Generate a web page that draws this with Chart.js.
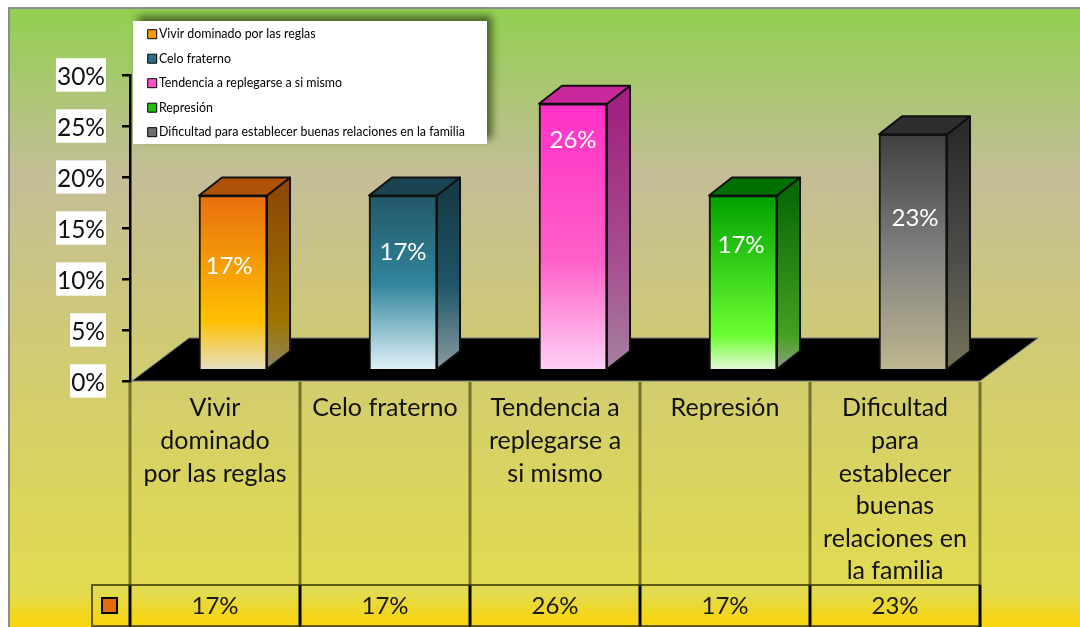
<!DOCTYPE html>
<html>
<head>
<meta charset="utf-8">
<title>Gráfico</title>
<script src="https://cdn.jsdelivr.net/npm/chart.js@4/dist/chart.umd.min.js"></script>
<style>
    html, body { margin: 0; padding: 0; background: #fff; overflow: hidden; }
    canvas { display: block; }
</style>
</head>
<body>
<canvas id="chart" width="1080" height="627"></canvas>
<script>
    const categories = [
        "Vivir dominado por las reglas",
        "Celo fraterno",
        "Tendencia a replegarse a si mismo",
        "Represión",
        "Dificultad para establecer buenas relaciones en la familia"
    ];
    const categoryLines = [
        ["Vivir", "dominado", "por las reglas"],
        ["Celo fraterno"],
        ["Tendencia a", "replegarse a", "si mismo"],
        ["Represión"],
        ["Dificultad", "para", "establecer", "buenas", "relaciones en", "la familia"]
    ];
    const values = [17, 17, 26, 17, 23];
    const valueTexts = ["17%", "17%", "26%", "17%", "23%"];

    // colours per bar: gradient stops for the front and side faces, flat top
    const frontStops = [
        [[0, "#E8700E"], [0.72, "#FFC000"], [1, "#E6DEC0"]],
        [[0, "#225868"], [0.51, "#31859C"], [1, "#E0F1F7"]],
        [[0, "#FF30C8"], [0.59, "#FF60C8"], [1, "#FFD0F4"]],
        [[0, "#00A000"], [0.81, "#6CFF33"], [1, "#E4F8D4"]],
        [[0, "#404040"], [0.5, "#7F7F7F"], [1, "#BDB68F"]]
    ];
    const sideStops = [
        [[0, "#8E4A06"], [0.72, "#9C7400"], [1, "#8F8660"]],
        [[0, "#173C48"], [0.51, "#1E5566"], [1, "#8A9BA0"]],
        [[0, "#A0217F"], [0.59, "#A64F8F"], [1, "#A680A0"]],
        [[0, "#0A6A08"], [0.81, "#45A020"], [1, "#90A080"]],
        [[0, "#2B2B2B"], [0.5, "#4B4B48"], [1, "#757258"]]
    ];
    const topColors = ["#B05208", "#1B4452", "#C8289A", "#007000", "#2E2E2E"];
    const legendColors = ["#F59A08", "#2B7088", "#FF50C8", "#20C010", "#6E6E6E"];

    // the value labels do not sit at a fixed place in the bars
    const labelOffsetX = [-4, 0, 0, -2, 2];
    const labelOffsetY = [71, 57, 37, 50, 84];

    const depthX = 23;
    const depthY = 18;
    const fontName = "Lato, Carlito, sans-serif";

    function verticalGradient(ctx, top, bottom, stops) {
        const gradient = ctx.createLinearGradient(0, top, 0, bottom);
        stops.forEach(function (stop) {
            gradient.addColorStop(stop[0], stop[1]);
        });
        return gradient;
    }

    const scenery = {
        id: "scenery",
        beforeDraw: function (chart) {
            const ctx = chart.ctx;
            const legend = chart.legend;
            legend.left = 139.6;
            legend.top = 15.9;

            ctx.save();
            ctx.fillStyle = "#ffffff";
            ctx.fillRect(0, 0, 1080, 627);
            ctx.fillStyle = verticalGradient(ctx, 8, 627, [
                [0, "#92D050"], [0.27, "#C4BD97"], [0.62, "#D3CE6C"],
                [0.945, "#E2DB50"], [0.99, "#F7D510"], [1, "#F7D510"]
            ]);
            ctx.fillRect(8, 8, 1072, 619);
            ctx.strokeStyle = "#8c8c8c";
            ctx.lineWidth = 2;
            ctx.beginPath();
            ctx.moveTo(9, 627);
            ctx.lineTo(9, 8);
            ctx.lineTo(1080, 8);
            ctx.stroke();

            // legend box
            ctx.shadowColor = "rgba(50, 70, 20, 0.8)";
            ctx.shadowBlur = 8;
            ctx.shadowOffsetX = 5;
            ctx.shadowOffsetY = -5;
            ctx.fillStyle = "#ffffff";
            ctx.fillRect(133, 21, 354, 123);
            ctx.restore();
        },
        beforeDatasetsDraw: function (chart) {
            const ctx = chart.ctx;
            const x = chart.scales.x;
            const y = chart.scales.y;
            const zero = y.getPixelForValue(0);
            const rowTop = 585;

            ctx.save();
            // floor
            ctx.fillStyle = "#000000";
            ctx.strokeStyle = "#77778a";
            ctx.lineWidth = 1;
            ctx.beginPath();
            ctx.moveTo(x.left + 2, zero);
            ctx.lineTo(x.left + 59, zero - 43);
            ctx.lineTo(x.right + 58, zero - 43);
            ctx.lineTo(x.right, zero);
            ctx.closePath();
            ctx.fill();
            ctx.stroke();

            // data table
            const columnEdges = [x.left];
            values.forEach(function (value, i) {
                columnEdges.push(x.left + (x.right - x.left) * (i + 1) / values.length);
            });
            ctx.lineWidth = 3;
            columnEdges.forEach(function (edge) {
                ctx.strokeStyle = "rgba(50, 50, 0, 0.6)";
                ctx.beginPath();
                ctx.moveTo(edge, zero + 1);
                ctx.lineTo(edge, rowTop);
                ctx.stroke();
                ctx.strokeStyle = "#000000";
                ctx.beginPath();
                ctx.moveTo(edge, rowTop);
                ctx.lineTo(edge, 627);
                ctx.stroke();
            });
            ctx.strokeStyle = "rgba(50, 50, 0, 0.75)";
            ctx.lineWidth = 2;
            ctx.beginPath();
            ctx.moveTo(92, 627);
            ctx.lineTo(92, rowTop);
            ctx.lineTo(x.right, rowTop);
            ctx.moveTo(92, 626);
            ctx.lineTo(x.right, 626);
            ctx.stroke();

            ctx.fillStyle = "#E46C0A";
            ctx.strokeStyle = "#000000";
            ctx.fillRect(102, 598, 15, 15);
            ctx.strokeRect(102, 598, 15, 15);

            ctx.fillStyle = "#1a1a1a";
            ctx.font = "24px " + fontName;
            ctx.textAlign = "center";
            ctx.textBaseline = "middle";
            valueTexts.forEach(function (text, i) {
                ctx.fillText(text, x.getPixelForTick(i), 606);
            });

            // side and top faces of the bars
            chart.getDatasetMeta(0).data.forEach(function (bar, i) {
                const right = bar.x + bar.width / 2;
                const left = bar.x - bar.width / 2;
                ctx.strokeStyle = "#111111";
                ctx.lineWidth = 2;
                ctx.lineJoin = "round";
                ctx.fillStyle = verticalGradient(ctx, bar.y, bar.base, sideStops[i]);
                ctx.beginPath();
                ctx.moveTo(right, bar.y);
                ctx.lineTo(right + depthX, bar.y - depthY);
                ctx.lineTo(right + depthX, bar.base - depthY);
                ctx.lineTo(right, bar.base);
                ctx.closePath();
                ctx.fill();
                ctx.stroke();
                ctx.fillStyle = topColors[i];
                ctx.beginPath();
                ctx.moveTo(left, bar.y);
                ctx.lineTo(left + depthX, bar.y - depthY);
                ctx.lineTo(right + depthX, bar.y - depthY);
                ctx.lineTo(right, bar.y);
                ctx.closePath();
                ctx.fill();
                ctx.stroke();
            });
            ctx.restore();
        },
        afterDatasetsDraw: function (chart) {
            const ctx = chart.ctx;
            ctx.save();
            ctx.fillStyle = "#ffffff";
            ctx.font = "24px " + fontName;
            ctx.textAlign = "center";
            ctx.textBaseline = "middle";
            chart.getDatasetMeta(0).data.forEach(function (bar, i) {
                ctx.fillText(valueTexts[i], bar.x + labelOffsetX[i], bar.y + labelOffsetY[i]);
            });
            ctx.restore();
        }
    };

    new Chart(document.getElementById("chart"), {
        type: "bar",
        data: {
            labels: categoryLines,
            datasets: [{
                label: "Serie",
                data: values.map(function (value, i) {
                    return { x: i, y: value };
                }),
                xAxisID: "xBars",
                yAxisID: "yBars",
                barThickness: 68,
                borderColor: "#111111",
                borderWidth: 2,
                backgroundColor: function (context) {
                    const chart = context.chart;
                    if (!chart.scales.yBars || context.dataIndex === undefined) {
                        return "#888888";
                    }
                    const scale = chart.scales.yBars;
                    return verticalGradient(
                        chart.ctx,
                        scale.getPixelForValue(values[context.dataIndex]),
                        scale.getPixelForValue(0),
                        frontStops[context.dataIndex]
                    );
                }
            }]
        },
        options: {
            responsive: false,
            animation: false,
            devicePixelRatio: 1,
            layout: { padding: { top: 75, right: 100, left: 0, bottom: 0 } },
            scales: {
                x: {
                    type: "category",
                    position: "bottom",
                    grid: { display: false },
                    border: { display: false },
                    ticks: {
                        autoSkip: false,
                        maxRotation: 0,
                        minRotation: 0,
                        padding: 3,
                        color: "#111111",
                        font: { family: fontName, size: 25, lineHeight: "32.6px" }
                    },
                    afterFit: function (scale) {
                        scale.height = 246;
                    }
                },
                y: {
                    type: "linear",
                    position: "left",
                    min: 0,
                    max: 30,
                    grid: {
                        drawOnChartArea: false,
                        drawTicks: true,
                        tickLength: 8,
                        color: "#000000",
                        lineWidth: 2.5
                    },
                    border: { display: true, color: "#000000", width: 2.5 },
                    ticks: {
                        stepSize: 5,
                        padding: 17,
                        labelOffset: 2,
                        color: "#111111",
                        font: { family: fontName, size: 24.5 },
                        showLabelBackdrop: true,
                        backdropPadding: { left: 1, right: 1, top: 4, bottom: 0 },
                        backdropColor: function (context) {
                            const middle = context.scale.getPixelForTick(context.index);
                            return verticalGradient(context.chart.ctx, middle - 17, middle + 17, [
                                [0, "#ffffff"], [0.35, "#ffffff"], [1, "#d8e0f3"]
                            ]);
                        },
                        callback: function (value) {
                            return value + "%";
                        }
                    },
                    afterFit: function (scale) {
                        scale.width = 130;
                    }
                },
                // the bars stand on the floor, a little above and right of the axis origin
                xBars: { type: "linear", display: false, offset: false, min: -0.606, max: 4.394 },
                yBars: { type: "linear", display: false, min: -1.18, max: 28.82 }
            },
            plugins: {
                tooltip: { enabled: false },
                legend: {
                    position: "chartArea",
                    align: "start",
                    labels: {
                        usePointStyle: true,
                        boxWidth: 1,
                        boxHeight: 9,
                        padding: 12.1,
                        color: "#303030",
                        font: { family: fontName, size: 12.4 },
                        generateLabels: function () {
                            return categories.map(function (name, i) {
                                return {
                                    text: name,
                                    fillStyle: legendColors[i],
                                    strokeStyle: "#000000",
                                    lineWidth: 1,
                                    pointStyle: "rect",
                                    hidden: false,
                                    index: i
                                };
                            });
                        }
                    }
                }
            }
        },
        plugins: [scenery]
    });
</script>
</body>
</html>
